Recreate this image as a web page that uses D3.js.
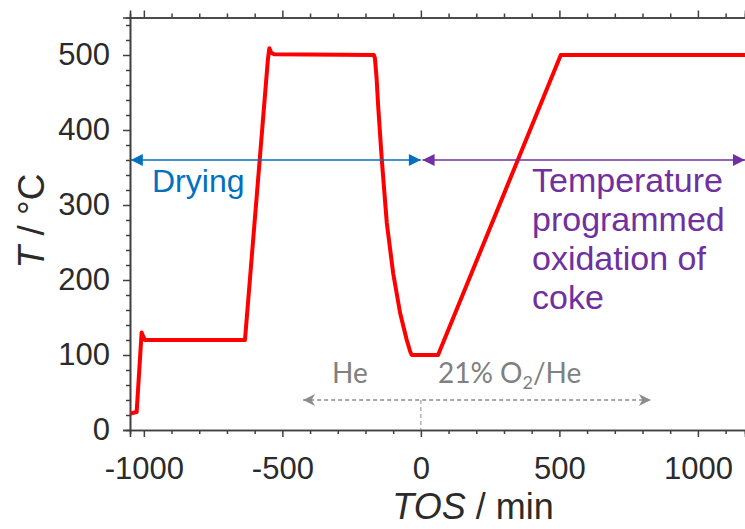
<!DOCTYPE html>
<html>
<head>
<meta charset="utf-8">
<script src="https://cdn.jsdelivr.net/npm/d3@7"></script>
<style>
  body { margin: 0; background: #fff; }
  svg text { font-family: "Liberation Sans", Arial, sans-serif; }
</style>
</head>
<body>
<svg id="chart" width="745" height="529"></svg>
<script>
// temperature programme
let tos  = [-1048, -1026, -1008, -1003, -996, -985, -635, -552, -547, -540, -530, -170, -166, -160, -154, -141, -123, -100, -75, -51, -38, -33, 62, 505, 1170];
let temp = [22, 24, 130, 125, 120, 120, 120, 495, 509, 503, 501, 500, 496, 470, 431, 360, 276, 209, 156, 120, 104, 100, 100, 500, 500];

let xMajor = [-1000, -500, 0, 500, 1000];
let yMajor = [0, 100, 200, 300, 400, 500];

// annotation spans (min) and levels
let dryingSpan = [-1047, 0];
let tpoSpan = [6, 1170];
let arrowLevel = 360;
let gasSpan = [-425, 830];
let gasLevel = 40;

let svg = d3.select('#chart');
let mLeft = 130, mRight = 745, mTop = 17.5, mBottom = 430;

let x = d3.scaleLinear().domain([-1050, 1170]).range([mLeft, mRight]);
let y = d3.scaleLinear().domain([0, 550]).range([mBottom, mTop]);

let axisCol = '#404040';
let fmt = d => String(d);

// minor ticks
let xMinor = d3.range(-1000, 1200, 100).filter(d => d % 500 !== 0);
let yMinor = d3.range(0, 560, 20).filter(d => d % 100 !== 0);

let bottomMinor = d3.axisBottom(x).tickValues(xMinor).tickSize(4).tickFormat('');
let topMinor = d3.axisTop(x).tickValues(xMinor).tickSize(4).tickFormat('');
let leftMinor = d3.axisLeft(y).tickValues(yMinor).tickSize(4).tickFormat('');

let gx = svg.append('g').attr('transform', 'translate(0,' + mBottom + ')');
gx.call(bottomMinor);
gx.append('g').call(d3.axisBottom(x).tickValues(xMajor).tickSize(7).tickPadding(20).tickFormat(fmt));

let gt = svg.append('g').attr('transform', 'translate(0,' + mTop + ')');
gt.call(topMinor);
gt.append('g').call(d3.axisTop(x).tickValues(xMajor).tickSize(7).tickFormat(''));

let gy = svg.append('g').attr('transform', 'translate(' + mLeft + ',0)');
gy.call(leftMinor);
gy.append('g').call(d3.axisLeft(y).tickValues(yMajor).tickSize(7).tickPadding(13).tickFormat(fmt));

svg.selectAll('.domain').attr('stroke', axisCol).attr('stroke-width', 1.6);
svg.selectAll('.tick line').attr('stroke', axisCol).attr('stroke-width', 1.5);
svg.selectAll('.tick text').attr('fill', '#2b2b2b').style('font-size', '31px');

// axis titles
let xt = svg.append('text')
  .attr('x', 473).attr('y', 519)
  .attr('text-anchor', 'middle')
  .style('font-size', '36px').attr('fill', '#2b2b2b');
xt.append('tspan').attr('font-style', 'italic').text('TOS');
xt.append('tspan').text(' / min');

let yt = svg.append('text')
  .attr('transform', 'translate(44,221) rotate(-90)')
  .attr('text-anchor', 'middle')
  .style('font-size', '37px').attr('fill', '#2b2b2b');
yt.append('tspan').attr('font-style', 'italic').text('T');
yt.append('tspan').text(' / °C');

// arrow markers
let defs = svg.append('defs');
let mk = function(id, col, w, h) {
  defs.append('marker')
    .attr('id', id)
    .attr('viewBox', '0 0 10 10')
    .attr('refX', 10).attr('refY', 5)
    .attr('markerUnits', 'userSpaceOnUse')
    .attr('markerWidth', w).attr('markerHeight', h)
    .attr('orient', 'auto-start-reverse')
    .append('path').attr('d', 'M0,0 L10,5 L0,10 Z').attr('fill', col);
};
mk('blue', '#0070C0', 14, 12);
mk('purple', '#7030A0', 14, 12);
defs.append('marker')
  .attr('id', 'grey')
  .attr('viewBox', '0 0 10 10')
  .attr('refX', 10).attr('refY', 5)
  .attr('markerUnits', 'userSpaceOnUse')
  .attr('markerWidth', 13).attr('markerHeight', 12)
  .attr('orient', 'auto-start-reverse')
  .append('path').attr('d', 'M0,0 L10,5 L0,10 L3,5 Z').attr('fill', '#8c8c8c');

// temperature curve
let line = d3.line()
  .x((d, i) => x(tos[i]))
  .y((d, i) => y(temp[i]));

svg.append('path')
  .datum(temp)
  .attr('d', line)
  .attr('fill', 'none')
  .attr('stroke', '#ff0000')
  .attr('stroke-width', 4)
  .attr('stroke-linejoin', 'round');

// drying arrow
svg.append('line')
  .attr('x1', x(dryingSpan[0])).attr('x2', x(dryingSpan[1]))
  .attr('y1', y(arrowLevel)).attr('y2', y(arrowLevel))
  .attr('stroke', '#0070C0').attr('stroke-width', 1.5)
  .attr('marker-start', 'url(#blue)').attr('marker-end', 'url(#blue)');

svg.append('line')
  .attr('x1', x(tpoSpan[0])).attr('x2', x(tpoSpan[1]))
  .attr('y1', y(arrowLevel)).attr('y2', y(arrowLevel))
  .attr('stroke', '#7030A0').attr('stroke-width', 1.5)
  .attr('marker-start', 'url(#purple)').attr('marker-end', 'url(#purple)');

svg.append('text')
  .attr('x', 152).attr('y', 192)
  .style('font-size', '32px').attr('fill', '#0070C0')
  .text('Drying');

let tpo = ['Temperature', 'programmed', 'oxidation of', 'coke'];
svg.append('g').selectAll('text')
  .data(tpo).join('text')
  .attr('x', 532).attr('y', (d, i) => 192 + i * 39)
  .style('font-size', '34px').attr('fill', '#7030A0')
  .text(d => d);

// gas switch
svg.append('line')
  .attr('x1', x(gasSpan[0])).attr('x2', x(gasSpan[1]))
  .attr('y1', y(gasLevel)).attr('y2', y(gasLevel))
  .attr('stroke', '#8c8c8c').attr('stroke-width', 1.3)
  .attr('stroke-dasharray', '4,3')
  .attr('marker-start', 'url(#grey)').attr('marker-end', 'url(#grey)');

svg.append('line')
  .attr('x1', x(0)).attr('x2', x(0))
  .attr('y1', y(gasLevel)).attr('y2', y(0))
  .attr('stroke', '#8c8c8c').attr('stroke-width', 1)
  .attr('stroke-dasharray', '4,3');

svg.append('text')
  .attr('x', 332).attr('y', 383)
  .style('font-family', 'Lato, sans-serif')
  .style('font-size', '28px').attr('fill', '#808080')
  .text('He');

let o2 = svg.append('text')
  .attr('x', 438).attr('y', 383)
  .style('font-family', 'Lato, sans-serif')
  .style('font-size', '28px').attr('fill', '#808080');
o2.append('tspan').text('21% O');
o2.append('tspan').attr('dy', 6).style('font-size', '18px').text('2');
o2.append('tspan').attr('dy', -6).text('/He');
</script>
</body>
</html>
